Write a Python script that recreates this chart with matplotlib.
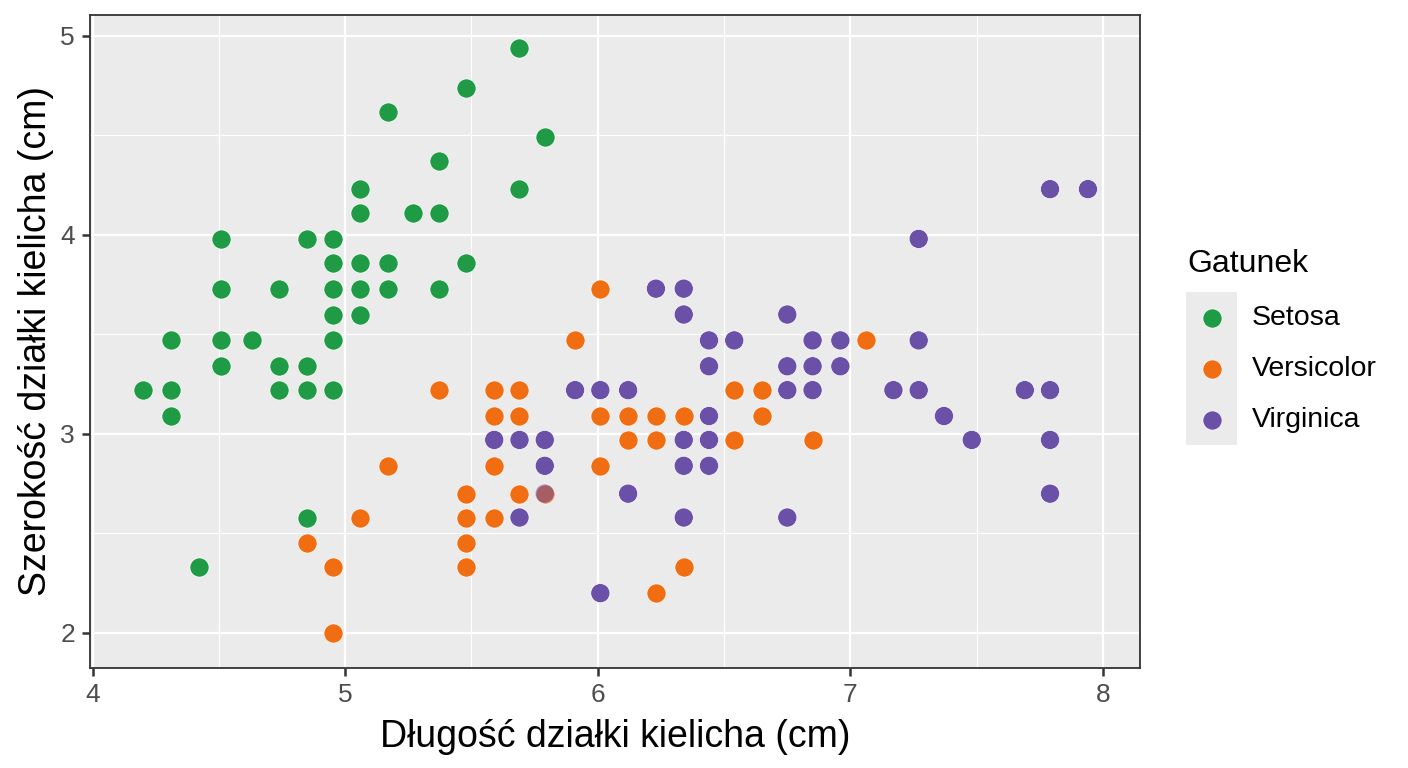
import matplotlib
matplotlib.use('Agg')
import matplotlib.pyplot as plt
from matplotlib.patches import Rectangle
from matplotlib.ticker import MultipleLocator

plt.rcParams['font.family'] = ['Liberation Sans', 'DejaVu Sans']

# dane (długość / szerokość działki kielicha)
setosa_x = [5.69, 5.48, 5.17, 5.79, 5.37, 5.06, 5.69, 5.06, 5.27, 5.37,
            4.51, 4.85, 4.95, 4.95, 5.06, 5.17, 5.48, 4.51, 4.74, 4.95,
            5.06, 5.17, 5.37, 4.95, 5.06, 4.31, 4.51, 4.63, 4.95, 4.51,
            4.74, 4.85, 4.20, 4.31, 4.74, 4.85, 4.95, 4.31, 4.85, 4.42]
setosa_y = [4.94, 4.74, 4.62, 4.49, 4.37, 4.23, 4.23, 4.11, 4.11, 4.11,
            3.98, 3.98, 3.98, 3.86, 3.86, 3.86, 3.86, 3.73, 3.73, 3.73,
            3.73, 3.73, 3.73, 3.60, 3.60, 3.47, 3.47, 3.47, 3.47, 3.34,
            3.34, 3.34, 3.22, 3.22, 3.22, 3.22, 3.22, 3.09, 2.58, 2.33]

versicolor_x = [6.01, 5.91, 7.06, 5.37, 5.59, 5.69, 6.54, 6.65,
                5.59, 5.69, 6.01, 6.12, 6.23, 6.34, 6.65,
                6.12, 6.23, 6.54, 6.85, 5.17, 5.59, 6.01,
                5.48, 5.69, 5.79, 5.06, 5.48, 5.59, 4.85, 5.48,
                4.95, 5.48, 6.34, 6.23, 4.95]
versicolor_y = [3.73, 3.47, 3.47, 3.22, 3.22, 3.22, 3.22, 3.22,
                3.09, 3.09, 3.09, 3.09, 3.09, 3.09, 3.09,
                2.97, 2.97, 2.97, 2.97, 2.84, 2.84, 2.84,
                2.70, 2.70, 2.70, 2.58, 2.58, 2.58, 2.45, 2.45,
                2.33, 2.33, 2.33, 2.20, 2.00]

virginica_x = [7.79, 7.94, 7.27, 6.23, 6.34, 6.34, 6.75,
               6.44, 6.54, 6.85, 6.96, 7.27, 6.44, 6.75, 6.85, 6.96,
               5.91, 6.01, 6.12, 6.75, 6.85, 7.17, 7.27, 7.69, 7.79,
               6.44, 7.37, 5.59, 5.69, 5.79, 6.34, 6.44, 7.48, 7.79,
               5.79, 6.34, 6.44, 5.79, 6.12, 7.79, 5.69, 6.34, 6.75, 6.01]
virginica_y = [4.23, 4.23, 3.98, 3.73, 3.73, 3.60, 3.60,
               3.47, 3.47, 3.47, 3.47, 3.47, 3.34, 3.34, 3.34, 3.34,
               3.22, 3.22, 3.22, 3.22, 3.22, 3.22, 3.22, 3.22, 3.22,
               3.09, 3.09, 2.97, 2.97, 2.97, 2.97, 2.97, 2.97, 2.97,
               2.84, 2.84, 2.84, 2.70, 2.70, 2.70, 2.58, 2.58, 2.58, 2.20]

species = ['Setosa', 'Versicolor', 'Virginica']
colors = ['#1F9A45', '#F06D12', '#6A50A7']
series = [(setosa_x, setosa_y), (versicolor_x, versicolor_y), (virginica_x, virginica_y)]

W, H = 1408, 768
fig = plt.figure(figsize=(W / 100, H / 100), dpi=100)
ax = fig.add_axes([90 / W, 1 - 668 / H, (1140 - 90) / W, (668 - 15) / H])
ax.set_facecolor('#EBEBEB')

MS = 190
for i, (xs, ys) in enumerate(series):
    if i == 2:
        # punkty pokrywające się z versicolor są półprzezroczyste
        other = set(zip(versicolor_x, versicolor_y))
        alphas = [0.55 if (x, y) in other else 1.0 for x, y in zip(xs, ys)]
    else:
        alphas = 1.0
    ax.scatter(xs, ys, s=MS, color=colors[i], alpha=alphas,
               edgecolors='white', linewidths=0.5, zorder=3)

ax.set_xlim(3.99, 8.146)
ax.set_ylim(1.824, 5.105)
ax.xaxis.set_major_locator(MultipleLocator(1))
ax.xaxis.set_minor_locator(MultipleLocator(0.5))
ax.yaxis.set_major_locator(MultipleLocator(1))
ax.yaxis.set_minor_locator(MultipleLocator(0.5))
ax.grid(which='major', color='white', lw=1.6, zorder=0)
ax.grid(which='minor', color='white', lw=0.8, zorder=0)
ax.set_axisbelow(True)
ax.tick_params(which='major', length=5.8, width=1.8, color='#333333',
               labelsize=19, labelcolor='#4D4D4D', pad=5)
ax.tick_params(which='minor', length=0)
for side in ['left', 'bottom', 'top', 'right']:
    ax.spines[side].set_color('#333333')
    ax.spines[side].set_linewidth(1.3)

fig.text(615 / W, 1 - 747 / H, 'Długość działki kielicha (cm)', ha='center',
         va='baseline', fontsize=27)
fig.text(36 / W, 1 - 341 / H, 'Szerokość działki kielicha (cm)', ha='center',
         va='center', rotation=90, fontsize=27)

# legenda w stylu ggplot
lax = fig.add_axes([1150 / W, 1 - 470 / H, 258 / W, 240 / H])
lax.set_xlim(1150, 1408)
lax.set_ylim(470, 230)
lax.axis('off')
lax.add_patch(Rectangle((1186, 292), 51, 153, color='#EBEBEB', lw=0))
lax.text(1187, 272, 'Gatunek', fontsize=23, va='baseline', ha='left')
for i, name in enumerate(species):
    yy = 318 + 51 * i
    lax.scatter([1212], [yy], s=MS, color=colors[i], edgecolors='white', linewidths=0.5)
    lax.text(1252, yy, name, fontsize=20.5, va='center', ha='left')

fig.savefig('out.png', dpi=100)
